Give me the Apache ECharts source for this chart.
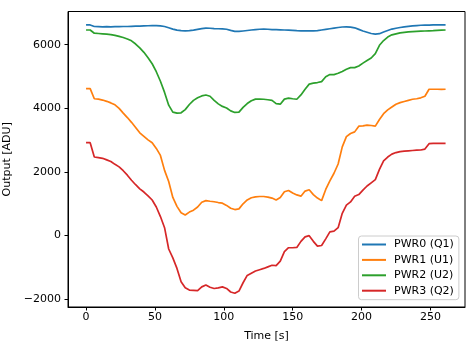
<!DOCTYPE html>
<html>
<head>
<meta charset="utf-8">
<script src="https://cdn.jsdelivr.net/npm/echarts@6/dist/echarts.min.js"></script>
<style>
  html, body { margin: 0; padding: 0; background: #fff; }
  #chart { width: 476px; height: 347px; }
</style>
</head>
<body>
<div id="chart"></div>
<script>
// Sample times in seconds
const times = [0,3,6,9,12,15,18,21,24,27,30,33,36,39,42,45,48,51,54,57,60,63,66,69,72,75,78,81,84,87,90,93,96,99,102,105,108,111,114,117,120,123,126,129,132,135,138,141,144,147,150,153,156,159,162,165,168,171,174,177,180,183,186,189,192,195,198,201,204,207,210,213,216,219,222,225,228,231,234,237,240,243,246,249,252,255,258,261];

// Detector outputs in ADU
const pwr0 = [6620,6620,6570,6565,6560,6565,6560,6565,6565,6570,6570,6575,6580,6585,6590,6595,6600,6600,6590,6570,6530,6490,6455,6440,6435,6440,6455,6480,6505,6520,6515,6505,6500,6495,6485,6450,6420,6415,6430,6445,6460,6475,6485,6490,6485,6475,6470,6465,6460,6455,6450,6440,6435,6435,6435,6435,6440,6460,6480,6500,6520,6540,6555,6560,6550,6530,6480,6430,6390,6350,6330,6345,6400,6445,6490,6515,6540,6560,6575,6590,6600,6610,6615,6615,6620,6620,6620,6620];
const pwr1 = [4620,4620,4300,4290,4260,4220,4170,4110,4000,3850,3710,3560,3400,3230,3120,3010,2920,2740,2520,2050,1700,1200,920,720,650,740,800,900,1050,1100,1080,1065,1040,1020,950,860,820,840,1000,1120,1190,1220,1230,1230,1210,1180,1120,1200,1380,1420,1340,1280,1240,1400,1440,1290,1180,1100,1450,1720,1960,2250,2790,3110,3210,3260,3440,3450,3470,3460,3440,3650,3830,3950,4040,4130,4180,4215,4250,4285,4300,4330,4380,4600,4600,4600,4595,4600];
const pwr2 = [6460,6460,6360,6350,6340,6330,6315,6290,6260,6225,6180,6120,6020,5900,5760,5590,5400,5150,4850,4500,4100,3880,3850,3860,3960,4120,4250,4330,4390,4420,4380,4250,4140,4060,4010,3920,3870,3880,4030,4150,4240,4290,4290,4285,4270,4250,4150,4130,4290,4320,4300,4285,4420,4600,4760,4790,4810,4840,4990,5060,5060,5100,5160,5230,5280,5280,5330,5420,5500,5580,5720,5980,6130,6240,6310,6340,6370,6385,6400,6410,6420,6425,6430,6435,6440,6450,6455,6460];
const pwr3 = [2920,2920,2470,2450,2430,2380,2330,2240,2160,2040,1900,1740,1600,1470,1370,1250,1120,900,600,250,-420,-700,-1030,-1450,-1640,-1710,-1720,-1730,-1610,-1550,-1620,-1660,-1640,-1610,-1660,-1770,-1810,-1740,-1480,-1250,-1180,-1110,-1070,-1030,-980,-930,-940,-800,-500,-380,-380,-370,-180,-40,0,-180,-330,-310,-100,120,140,250,700,960,1060,1240,1290,1430,1560,1660,1760,2080,2350,2470,2560,2610,2640,2655,2665,2675,2685,2690,2720,2890,2900,2900,2900,2900];

const seriesNames = ['PWR0 (Q1)', 'PWR1 (U1)', 'PWR2 (U2)', 'PWR3 (Q2)'];
const seriesValues = [pwr0, pwr1, pwr2, pwr3];
const colors = ['#1f77b4', '#ff7f0e', '#2ca02c', '#d62728'];

const xTicks = [0, 50, 100, 150, 200, 250];
const yTicks = [-2000, 0, 2000, 4000, 6000];

const font = 'DejaVu Sans';
const chart = echarts.init(document.getElementById('chart'), null, { renderer: 'canvas' });

const fmtNum = v => (v < 0 ? '\u2212' + Math.abs(v) : String(v));

chart.setOption({
  animation: false,
  backgroundColor: '#fff',
  color: colors,
  grid: {
    left: 68, right: 11, top: 11.5, bottom: 40,
    containLabel: false, outerBoundsMode: 'none',
    show: true, borderColor: '#000', borderWidth: 1, backgroundColor: 'transparent'
  },
  xAxis: {
    type: 'value', min: -13.1, max: 275.1,
    name: 'Time [s]', nameLocation: 'middle', nameGap: 24,
    nameTextStyle: { fontFamily: font, fontSize: 11, color: '#000' },
    axisLine: { show: true, onZero: false, lineStyle: { color: '#000', width: 1 } },
    axisTick: { show: true, length: 3.5, customValues: xTicks, lineStyle: { color: '#000' } },
    axisLabel: { customValues: xTicks, fontFamily: font, fontSize: 11, color: '#000', margin: 5, formatter: fmtNum },
    splitLine: { show: false }
  },
  yAxis: {
    type: 'value', min: -2242, max: 7042,
    name: 'Output [ADU]', nameLocation: 'middle', nameGap: 52, nameRotate: 90,
    nameTextStyle: { fontFamily: font, fontSize: 11, color: '#000' },
    axisLine: { show: true, onZero: false, lineStyle: { color: '#000', width: 1 } },
    axisTick: { show: true, length: 3.5, customValues: yTicks, lineStyle: { color: '#000' } },
    axisLabel: { customValues: yTicks, fontFamily: font, fontSize: 11, color: '#000', margin: 7, formatter: fmtNum },
    splitLine: { show: false }
  },
  legend: {
    orient: 'vertical',
    left: 358.5, top: 236,
    icon: 'rect', itemWidth: 24, itemHeight: 2, itemGap: 3.4,
    padding: [2.5, 5, 3, 3.5],
    backgroundColor: 'rgba(255,255,255,0.8)',
    borderColor: '#cccccc', borderWidth: 1, borderRadius: 3,
    textStyle: { fontFamily: font, fontSize: 11, lineHeight: 12, color: '#000', padding: [0, 0, 0, 3] },
    data: seriesNames
  },
  series: seriesNames.map((name, i) => ({
    name: name,
    type: 'line',
    showSymbol: false,
    symbol: 'none',
    lineStyle: { width: 1.7, color: colors[i] },
    itemStyle: { color: colors[i] },
    data: times.map((t, k) => [t, seriesValues[i][k]])
  }))
});
</script>
</body>
</html>
